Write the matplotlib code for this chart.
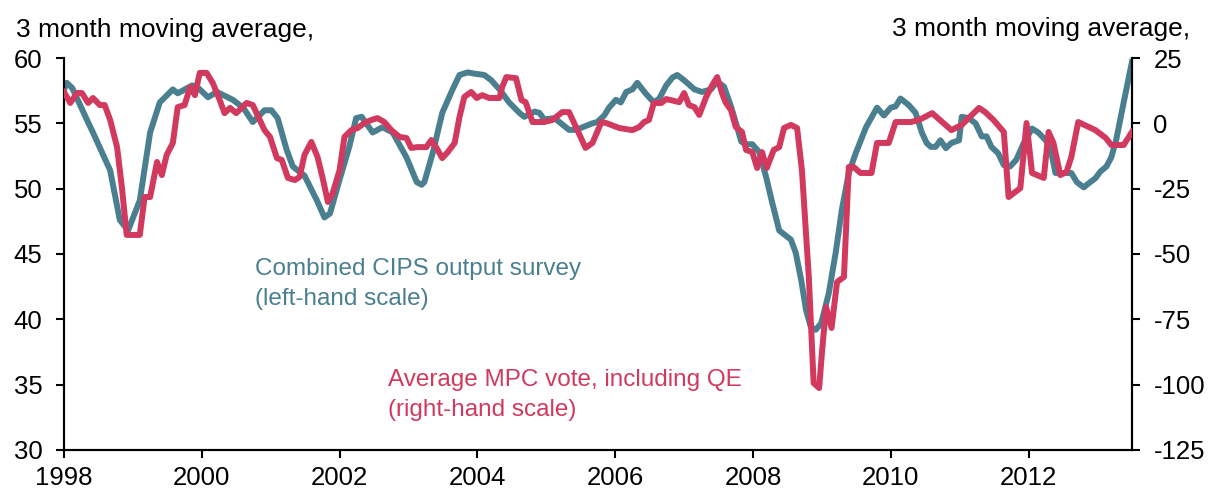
import matplotlib.pyplot as plt

# Combined CIPS output survey, 3 month moving average (left-hand scale)
cips_dates = [
    1998.00, 1998.04, 1998.12, 1998.33, 1998.42, 1998.67, 1998.81, 1998.93,
    1999.10, 1999.25, 1999.39, 1999.58, 1999.65, 1999.86, 1999.93, 2000.09,
    2000.22, 2000.45, 2000.60, 2000.74, 2000.91, 2001.01, 2001.10, 2001.23,
    2001.32, 2001.49, 2001.67, 2001.78, 2001.86, 2002.00, 2002.14, 2002.24,
    2002.32, 2002.48, 2002.62, 2002.77, 2002.97, 2003.12, 2003.19, 2003.23,
    2003.35, 2003.49, 2003.64, 2003.74, 2003.86, 2003.96, 2004.10, 2004.20,
    2004.32, 2004.46, 2004.61, 2004.68, 2004.83, 2004.90, 2004.97, 2005.12,
    2005.33, 2005.43, 2005.67, 2005.74, 2005.84, 2005.91, 2006.01, 2006.08,
    2006.16, 2006.25, 2006.32, 2006.44, 2006.56, 2006.64, 2006.74, 2006.83,
    2006.90, 2007.00, 2007.15, 2007.26, 2007.39, 2007.48, 2007.58, 2007.68,
    2007.77, 2007.83, 2007.90, 2007.99, 2008.09, 2008.19, 2008.28, 2008.38,
    2008.55, 2008.62, 2008.70, 2008.77, 2008.84, 2008.91, 2008.99, 2009.10,
    2009.20, 2009.29, 2009.39, 2009.49, 2009.64, 2009.80, 2009.90, 2010.00,
    2010.07, 2010.14, 2010.26, 2010.36, 2010.45, 2010.52, 2010.58, 2010.65,
    2010.72, 2010.80, 2010.88, 2010.99, 2011.03, 2011.13, 2011.23, 2011.32,
    2011.39, 2011.46, 2011.56, 2011.64, 2011.73, 2011.82, 2011.93, 2012.05,
    2012.14, 2012.25, 2012.32, 2012.39, 2012.53, 2012.62, 2012.70, 2012.80,
    2012.87, 2012.97, 2013.04, 2013.13, 2013.20, 2013.27, 2013.38, 2013.50,
]
cips_values = [
    57.6, 58.1, 57.7, 55.3, 54.3, 51.4, 47.6, 46.8,
    49.1, 54.3, 56.6, 57.6, 57.3, 57.9, 57.8, 57.0,
    57.4, 56.8, 56.2, 55.1, 56.0, 56.0, 55.4, 53.0,
    51.7, 51.0, 49.1, 47.8, 48.1, 50.7, 53.2, 55.4,
    55.5, 54.3, 54.7, 54.3, 52.4, 50.5, 50.3, 50.5,
    52.7, 55.8, 57.6, 58.7, 58.9, 58.8, 58.7, 58.3,
    57.6, 56.6, 55.8, 55.5, 55.9, 55.8, 55.3, 55.4,
    54.5, 54.5, 55.0, 55.1, 55.6, 56.2, 56.8, 56.6,
    57.4, 57.6, 58.1, 57.3, 56.6, 56.9, 57.9, 58.5,
    58.7, 58.3, 57.6, 57.4, 57.6, 58.2, 57.8, 56.3,
    54.7, 53.6, 53.4, 53.4, 52.8, 50.9, 48.9, 46.8,
    46.1, 45.1, 43.0, 40.7, 39.4, 39.2, 39.7, 42.0,
    45.1, 48.4, 51.2, 52.7, 54.7, 56.2, 55.6, 56.2,
    56.3, 56.9, 56.4, 55.8, 54.3, 53.5, 53.2, 53.2,
    53.7, 53.1, 53.5, 53.7, 55.5, 55.4, 55.0, 54.0,
    54.0, 53.2, 52.7, 51.8, 51.7, 52.2, 53.5, 54.6,
    54.3, 53.7, 53.0, 51.2, 51.2, 51.2, 50.5, 50.1,
    50.4, 50.8, 51.3, 51.7, 52.4, 53.7, 56.6, 59.7,
]

# Average MPC vote including QE, 3 month moving average (right-hand scale)
mpc_dates = [
    1998.00, 1998.09, 1998.19, 1998.26, 1998.35, 1998.42, 1998.52, 1998.59,
    1998.67, 1998.77, 1998.84, 1998.91, 1999.10, 1999.17, 1999.25, 1999.35,
    1999.42, 1999.49, 1999.58, 1999.65, 1999.75, 1999.83, 1999.90, 1999.97,
    2000.07, 2000.16, 2000.26, 2000.33, 2000.41, 2000.50, 2000.59, 2000.65,
    2000.74, 2000.84, 2000.91, 2000.99, 2001.09, 2001.16, 2001.25, 2001.35,
    2001.42, 2001.49, 2001.59, 2001.68, 2001.75, 2001.83, 2001.90, 2002.00,
    2002.07, 2002.17, 2002.26, 2002.36, 2002.46, 2002.55, 2002.65, 2002.75,
    2002.87, 2002.97, 2003.04, 2003.13, 2003.26, 2003.33, 2003.40, 2003.49,
    2003.57, 2003.67, 2003.74, 2003.81, 2003.91, 2003.99, 2004.07, 2004.17,
    2004.32, 2004.36, 2004.42, 2004.56, 2004.64, 2004.70, 2004.80, 2004.97,
    2005.09, 2005.23, 2005.33, 2005.45, 2005.57, 2005.67, 2005.80, 2005.87,
    2006.06, 2006.25, 2006.35, 2006.42, 2006.49, 2006.56, 2006.67, 2006.74,
    2006.93, 2007.00, 2007.07, 2007.15, 2007.22, 2007.32, 2007.41, 2007.48,
    2007.55, 2007.60, 2007.68, 2007.75, 2007.84, 2007.90, 2007.99, 2008.06,
    2008.13, 2008.20, 2008.30, 2008.38, 2008.45, 2008.55, 2008.64, 2008.71,
    2008.81, 2008.88, 2008.96, 2009.00, 2009.06, 2009.14, 2009.22, 2009.32,
    2009.39, 2009.46, 2009.56, 2009.72, 2009.80, 2009.97, 2010.07, 2010.29,
    2010.41, 2010.60, 2010.88, 2011.03, 2011.28, 2011.37, 2011.49, 2011.64,
    2011.71, 2011.88, 2011.97, 2012.05, 2012.22, 2012.29, 2012.36, 2012.46,
    2012.55, 2012.62, 2012.72, 2012.97, 2013.12, 2013.20, 2013.38, 2013.50,
]
mpc_values = [
    12.0, 7.8, 11.6, 11.6, 7.8, 9.7, 7.0, 7.0,
    1.3, -9.1, -24.4, -42.7, -42.7, -28.2, -28.2, -14.8,
    -19.8, -12.1, -7.5, 6.2, 7.0, 13.9, 10.8, 19.3,
    19.3, 15.4, 8.9, 3.9, 5.9, 3.9, 6.2, 7.8,
    7.0, 1.3, -2.6, -5.2, -13.3, -14.0, -20.9, -21.7,
    -20.5, -12.1, -7.1, -12.9, -20.5, -30.1, -26.7, -17.9,
    -5.2, -2.6, -1.8, 0.1, 1.3, 2.0, 0.5, -2.6,
    -5.2, -5.6, -9.4, -9.1, -9.1, -6.4, -9.1, -13.3,
    -11.0, -7.5, 2.4, 10.1, 12.0, 9.7, 10.8, 9.7,
    9.7, 13.9, 17.7, 17.3, 8.9, 8.1, 0.5, 0.5,
    1.3, 4.3, 4.3, -2.6, -9.4, -7.5, 0.5, 0.1,
    -1.8, -2.6, -1.4, 0.5, 1.3, 7.8, 7.8, 9.3,
    8.1, 11.6, 7.0, 6.2, 3.2, 10.1, 14.7, 17.7,
    11.6, 8.1, 5.1, -1.4, -3.3, -10.2, -11.0, -17.1,
    -11.0, -17.1, -10.2, -9.1, -1.8, -0.6, -1.8, -17.9,
    -58.8, -99.4, -101.3, -87.9, -70.3, -78.3, -60.7, -58.8,
    -16.7, -16.7, -19.0, -19.0, -7.5, -7.5, 0.5, 0.5,
    1.3, 3.9, -2.6, -0.6, 5.9, 4.3, 1.3, -3.3,
    -28.2, -24.8, 0.1, -19.0, -20.9, -3.3, -7.5, -19.8,
    -18.6, -12.9, 0.5, -2.6, -5.6, -8.3, -8.3, -3.3,
]

left_ticks = [30, 35, 40, 45, 50, 55, 60]
right_ticks = [-125, -100, -75, -50, -25, 0, 25]
year_ticks = [1998, 2000, 2002, 2004, 2006, 2008, 2010, 2012]

blue = "#4A7F90"
red = "#D2395E"

plt.rcParams["font.family"] = ["Liberation Sans", "DejaVu Sans"]
plt.rcParams["axes.unicode_minus"] = False

fig = plt.figure(figsize=(12.1, 4.92), dpi=100)
ax = fig.add_axes([0.0529, 0.0854, 0.8826, 0.7967])
ax2 = ax.twinx()

ax.plot(cips_dates, cips_values, color=blue, lw=4.3, solid_joinstyle="round", zorder=2)
ax2.plot(mpc_dates, mpc_values, color=red, lw=4.3, solid_joinstyle="round", zorder=3)

ax.set_xlim(1998, 2013.5)
ax.set_ylim(30, 60)
ax2.set_ylim(-125, 25)
ax.set_xticks(year_ticks)
ax.set_yticks(left_ticks)
ax2.set_yticks(right_ticks)

for a in (ax, ax2):
    a.spines["top"].set_visible(False)
    for s in ("left", "right", "bottom"):
        a.spines[s].set_linewidth(1.5)
    a.tick_params(direction="out", length=5.5, width=1.5, labelsize=18.5, pad=10)
ax.tick_params(axis="x", pad=6)

fig.text(0.013, 0.939, "3 month moving average,", ha="left", va="center", fontsize=19)
fig.text(0.9835, 0.942, "3 month moving average,", ha="right", va="center", fontsize=19)

ax.text(2000.77, 42.7, "Combined CIPS output survey\n(left-hand scale)", color=blue,
        fontsize=17.5, ha="left", va="center", linespacing=1.45)
ax.text(2002.70, 34.2, "Average MPC vote, including QE\n(right-hand scale)", color=red,
        fontsize=17.5, ha="left", va="center", linespacing=1.45)

fig.savefig("out.png", dpi=100)
